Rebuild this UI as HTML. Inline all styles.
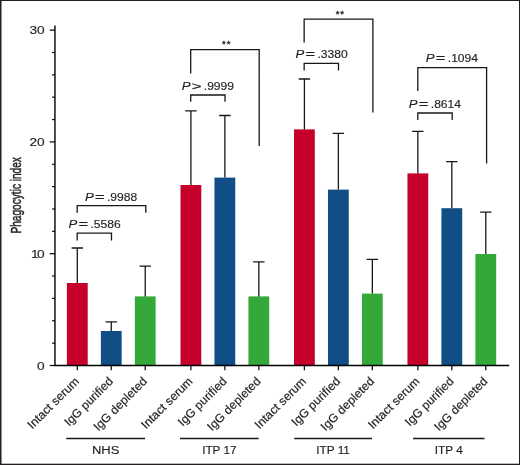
<!DOCTYPE html>
<html><head><meta charset="utf-8"><title>Phagocytic index</title>
<style>
html,body{margin:0;padding:0;background:#fff}
#fig{position:relative;width:520px;height:465px;background:#fff;overflow:hidden}
</style></head><body>
<div id="fig">
<svg width="520" height="465" viewBox="0 0 520 465" style="position:absolute;left:0;top:0">
<g font-family="'Liberation Sans', Arial, Helvetica, sans-serif" font-size="12" fill="#231f20" stroke="#231f20" stroke-width="0.15">
<rect x="66.90" y="283.00" width="20.8" height="82.50" fill="#c4002b" stroke="none"/>
<path d="M77.30 283.00V248.00M71.60 248.00H83.00" stroke="#1a1718" stroke-width="1.3" fill="none"/>
<path d="M77.30 365.5V370.3" stroke="#1a1718" stroke-width="1.3" fill="none"/>
<rect x="100.87" y="331.00" width="20.8" height="34.50" fill="#114e86" stroke="none"/>
<path d="M111.27 331.00V321.80M105.57 321.80H116.97" stroke="#1a1718" stroke-width="1.3" fill="none"/>
<path d="M111.27 365.5V370.3" stroke="#1a1718" stroke-width="1.3" fill="none"/>
<rect x="134.84" y="296.40" width="20.8" height="69.10" fill="#35a83a" stroke="none"/>
<path d="M145.24 296.40V266.20M139.54 266.20H150.94" stroke="#1a1718" stroke-width="1.3" fill="none"/>
<path d="M145.24 365.5V370.3" stroke="#1a1718" stroke-width="1.3" fill="none"/>
<rect x="180.50" y="185.00" width="20.8" height="180.50" fill="#c4002b" stroke="none"/>
<path d="M190.90 185.00V110.80M185.20 110.80H196.60" stroke="#1a1718" stroke-width="1.3" fill="none"/>
<path d="M190.90 365.5V370.3" stroke="#1a1718" stroke-width="1.3" fill="none"/>
<rect x="214.47" y="177.60" width="20.8" height="187.90" fill="#114e86" stroke="none"/>
<path d="M224.87 177.60V115.50M219.17 115.50H230.57" stroke="#1a1718" stroke-width="1.3" fill="none"/>
<path d="M224.87 365.5V370.3" stroke="#1a1718" stroke-width="1.3" fill="none"/>
<rect x="248.44" y="296.40" width="20.8" height="69.10" fill="#35a83a" stroke="none"/>
<path d="M258.84 296.40V261.80M253.14 261.80H264.54" stroke="#1a1718" stroke-width="1.3" fill="none"/>
<path d="M258.84 365.5V370.3" stroke="#1a1718" stroke-width="1.3" fill="none"/>
<rect x="294.00" y="129.40" width="20.8" height="236.10" fill="#c4002b" stroke="none"/>
<path d="M304.40 129.40V79.00M298.70 79.00H310.10" stroke="#1a1718" stroke-width="1.3" fill="none"/>
<path d="M304.40 365.5V370.3" stroke="#1a1718" stroke-width="1.3" fill="none"/>
<rect x="327.97" y="189.60" width="20.8" height="175.90" fill="#114e86" stroke="none"/>
<path d="M338.37 189.60V133.40M332.67 133.40H344.07" stroke="#1a1718" stroke-width="1.3" fill="none"/>
<path d="M338.37 365.5V370.3" stroke="#1a1718" stroke-width="1.3" fill="none"/>
<rect x="361.94" y="293.60" width="20.8" height="71.90" fill="#35a83a" stroke="none"/>
<path d="M372.34 293.60V259.40M366.64 259.40H378.04" stroke="#1a1718" stroke-width="1.3" fill="none"/>
<path d="M372.34 365.5V370.3" stroke="#1a1718" stroke-width="1.3" fill="none"/>
<rect x="407.45" y="173.40" width="20.8" height="192.10" fill="#c4002b" stroke="none"/>
<path d="M417.85 173.40V131.40M412.15 131.40H423.55" stroke="#1a1718" stroke-width="1.3" fill="none"/>
<path d="M417.85 365.5V370.3" stroke="#1a1718" stroke-width="1.3" fill="none"/>
<rect x="441.42" y="208.20" width="20.8" height="157.30" fill="#114e86" stroke="none"/>
<path d="M451.82 208.20V161.60M446.12 161.60H457.52" stroke="#1a1718" stroke-width="1.3" fill="none"/>
<path d="M451.82 365.5V370.3" stroke="#1a1718" stroke-width="1.3" fill="none"/>
<rect x="475.39" y="254.00" width="20.8" height="111.50" fill="#35a83a" stroke="none"/>
<path d="M485.79 254.00V212.20M480.09 212.20H491.49" stroke="#1a1718" stroke-width="1.3" fill="none"/>
<path d="M485.79 365.5V370.3" stroke="#1a1718" stroke-width="1.3" fill="none"/>
<path d="M54.95 25.5V366.15M54.35 365.5H509.2" stroke="#000" stroke-width="1.4" fill="none"/>
<path d="M49.75 365.50H54.95" stroke="#000" stroke-width="1.2" fill="none"/>
<path d="M52.150000000000006 343.14H54.95" stroke="#000" stroke-width="1.2" fill="none"/>
<path d="M52.150000000000006 320.78H54.95" stroke="#000" stroke-width="1.2" fill="none"/>
<path d="M52.150000000000006 298.42H54.95" stroke="#000" stroke-width="1.2" fill="none"/>
<path d="M52.150000000000006 276.06H54.95" stroke="#000" stroke-width="1.2" fill="none"/>
<path d="M49.75 253.70H54.95" stroke="#000" stroke-width="1.2" fill="none"/>
<path d="M52.150000000000006 231.34H54.95" stroke="#000" stroke-width="1.2" fill="none"/>
<path d="M52.150000000000006 208.98H54.95" stroke="#000" stroke-width="1.2" fill="none"/>
<path d="M52.150000000000006 186.62H54.95" stroke="#000" stroke-width="1.2" fill="none"/>
<path d="M52.150000000000006 164.26H54.95" stroke="#000" stroke-width="1.2" fill="none"/>
<path d="M49.75 141.90H54.95" stroke="#000" stroke-width="1.2" fill="none"/>
<path d="M52.150000000000006 119.54H54.95" stroke="#000" stroke-width="1.2" fill="none"/>
<path d="M52.150000000000006 97.18H54.95" stroke="#000" stroke-width="1.2" fill="none"/>
<path d="M52.150000000000006 74.82H54.95" stroke="#000" stroke-width="1.2" fill="none"/>
<path d="M52.150000000000006 52.46H54.95" stroke="#000" stroke-width="1.2" fill="none"/>
<path d="M49.75 30.10H54.95" stroke="#000" stroke-width="1.2" fill="none"/>
<text transform="translate(44.7,369.60) scale(1.2,1)" font-size="11.4" text-anchor="end">0</text>
<text transform="translate(44.7,257.80) scale(1.2,1)" font-size="11.4" text-anchor="end"><tspan letter-spacing="-1.2">1</tspan>0</text>
<text transform="translate(44.7,146.00) scale(1.2,1)" font-size="11.4" text-anchor="end">20</text>
<text transform="translate(44.7,34.20) scale(1.2,1)" font-size="11.4" text-anchor="end">30</text>
<text transform="translate(21.2,195.3) rotate(-90) scale(0.675,1)" font-size="15" text-anchor="middle" stroke="#231f20" stroke-width="0.5">Phagocytic index</text>
<text transform="translate(79.90,382) rotate(-45)" text-anchor="end" letter-spacing="0.1" stroke="#231f20" stroke-width="0.2">Intact serum</text>
<text transform="translate(113.87,382) rotate(-45)" text-anchor="end" letter-spacing="0.1" stroke="#231f20" stroke-width="0.2">IgG purified</text>
<text transform="translate(147.84,382) rotate(-45)" text-anchor="end" letter-spacing="0.1" stroke="#231f20" stroke-width="0.2">IgG depleted</text>
<text transform="translate(193.50,382) rotate(-45)" text-anchor="end" letter-spacing="0.1" stroke="#231f20" stroke-width="0.2">Intact serum</text>
<text transform="translate(227.47,382) rotate(-45)" text-anchor="end" letter-spacing="0.1" stroke="#231f20" stroke-width="0.2">IgG purified</text>
<text transform="translate(261.44,382) rotate(-45)" text-anchor="end" letter-spacing="0.1" stroke="#231f20" stroke-width="0.2">IgG depleted</text>
<text transform="translate(307.00,382) rotate(-45)" text-anchor="end" letter-spacing="0.1" stroke="#231f20" stroke-width="0.2">Intact serum</text>
<text transform="translate(340.97,382) rotate(-45)" text-anchor="end" letter-spacing="0.1" stroke="#231f20" stroke-width="0.2">IgG purified</text>
<text transform="translate(374.94,382) rotate(-45)" text-anchor="end" letter-spacing="0.1" stroke="#231f20" stroke-width="0.2">IgG depleted</text>
<text transform="translate(420.45,382) rotate(-45)" text-anchor="end" letter-spacing="0.1" stroke="#231f20" stroke-width="0.2">Intact serum</text>
<text transform="translate(454.42,382) rotate(-45)" text-anchor="end" letter-spacing="0.1" stroke="#231f20" stroke-width="0.2">IgG purified</text>
<text transform="translate(488.39,382) rotate(-45)" text-anchor="end" letter-spacing="0.1" stroke="#231f20" stroke-width="0.2">IgG depleted</text>
<path d="M66.25 438.5H145.0" stroke="#1a1718" stroke-width="1.3" fill="none"/>
<text transform="translate(105.62,454) scale(1.18,1)" font-size="11" text-anchor="middle">NHS</text>
<path d="M180.0 438.5H258.75" stroke="#1a1718" stroke-width="1.3" fill="none"/>
<text transform="translate(219.38,454) scale(1.07,1)" font-size="11" text-anchor="middle">ITP 17</text>
<path d="M294.2 438.5H372.0" stroke="#1a1718" stroke-width="1.3" fill="none"/>
<text transform="translate(333.10,454) scale(1.07,1)" font-size="11" text-anchor="middle">ITP 11</text>
<path d="M413.0 438.5H484.5" stroke="#1a1718" stroke-width="1.3" fill="none"/>
<text transform="translate(448.75,454) scale(1.07,1)" font-size="11" text-anchor="middle">ITP 4</text>
<path d="M77.20 240.4V233.2H111.50V240.4" stroke="#1a1718" stroke-width="1.3" fill="none"/>
<text transform="translate(68.40,228) scale(1.24,1)" font-size="10.6" font-style="italic">P</text>
<text transform="translate(83.20,228) scale(1.55,1)" font-size="10.6" text-anchor="middle">=</text>
<text transform="translate(90.40,228) scale(1.14,1)" font-size="10.6">.5586</text>
<path d="M77.20 212.8V205.6H145.80V212.8" stroke="#1a1718" stroke-width="1.3" fill="none"/>
<text transform="translate(85.00,200.6) scale(1.24,1)" font-size="10.6" font-style="italic">P</text>
<text transform="translate(99.80,200.6) scale(1.55,1)" font-size="10.6" text-anchor="middle">=</text>
<text transform="translate(107.00,200.6) scale(1.14,1)" font-size="10.6">.9988</text>
<path d="M190.70 101.8V95H225.00V101.8" stroke="#1a1718" stroke-width="1.3" fill="none"/>
<text transform="translate(181.80,89.6) scale(1.24,1)" font-size="10.6" font-style="italic">P</text>
<text transform="translate(196.80,89.6) scale(1.6,1)" font-size="10.6" text-anchor="middle">&gt;</text>
<text transform="translate(203.80,89.6) scale(1.14,1)" font-size="10.6">.9999</text>
<path d="M190.70 73.6V49.55H259.20V146" stroke="#1a1718" stroke-width="1.3" fill="none"/>
<text x="223.85 228.55" y="47.4" font-size="9.5" text-anchor="middle" stroke="#231f20" stroke-width="0.35">**</text>
<path d="M304.15 70.4V63.4H338.50V70.4" stroke="#1a1718" stroke-width="1.3" fill="none"/>
<text transform="translate(295.40,58) scale(1.24,1)" font-size="10.6" font-style="italic">P</text>
<text transform="translate(310.20,58) scale(1.55,1)" font-size="10.6" text-anchor="middle">=</text>
<text transform="translate(317.40,58) scale(1.14,1)" font-size="10.6">.3380</text>
<path d="M304.15 42.6V19.1H372.90V112.4" stroke="#1a1718" stroke-width="1.3" fill="none"/>
<text x="337.5 342.2" y="16.9" font-size="9.5" text-anchor="middle" stroke="#231f20" stroke-width="0.35">**</text>
<path d="M417.80 120V113H452.20V120" stroke="#1a1718" stroke-width="1.3" fill="none"/>
<text transform="translate(408.80,107.6) scale(1.24,1)" font-size="10.6" font-style="italic">P</text>
<text transform="translate(423.60,107.6) scale(1.55,1)" font-size="10.6" text-anchor="middle">=</text>
<text transform="translate(430.80,107.6) scale(1.14,1)" font-size="10.6">.8614</text>
<path d="M417.80 91V67.6H486.60V163.4" stroke="#1a1718" stroke-width="1.3" fill="none"/>
<text transform="translate(425.80,62) scale(1.24,1)" font-size="10.6" font-style="italic">P</text>
<text transform="translate(440.60,62) scale(1.55,1)" font-size="10.6" text-anchor="middle">=</text>
<text transform="translate(447.80,62) scale(1.14,1)" font-size="10.6">.1094</text>
</g>
<g fill="#231f20" stroke="none"><rect x="0" y="0" width="520" height="1"/><rect x="0" y="0" width="1.5" height="465"/><rect x="519" y="0" width="1" height="465"/><rect x="0" y="463.7" width="520" height="1.3"/></g></svg>
</div>
</body></html>
